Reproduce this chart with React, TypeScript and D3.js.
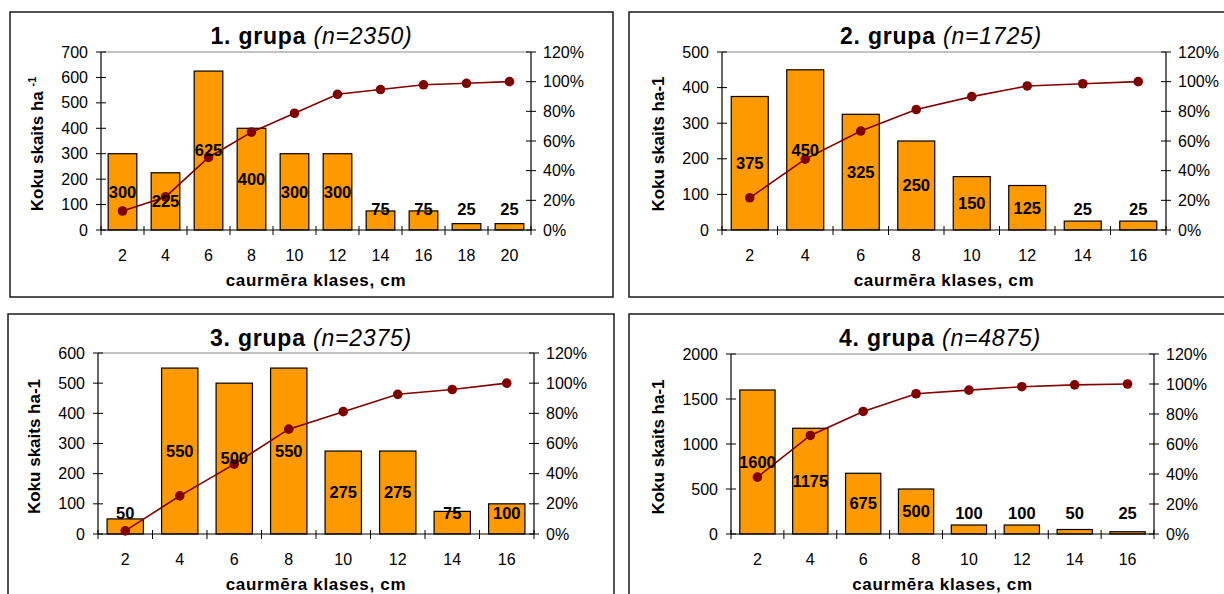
import React from "react";
import * as d3 from "d3";

// ---------- data ----------
const classes1 = ["2", "4", "6", "8", "10", "12", "14", "16", "18", "20"];
const counts1 = [300, 225, 625, 400, 300, 300, 75, 75, 25, 25];
const cumPct1 = [12.8, 22.3, 48.9, 66.0, 78.7, 91.5, 94.7, 97.9, 98.9, 100];

const classes2 = ["2", "4", "6", "8", "10", "12", "14", "16"];
const counts2 = [375, 450, 325, 250, 150, 125, 25, 25];
const cumPct2 = [21.7, 47.8, 66.7, 81.2, 89.9, 97.1, 98.6, 100];

const classes3 = ["2", "4", "6", "8", "10", "12", "14", "16"];
const counts3 = [50, 550, 500, 550, 275, 275, 75, 100];
const cumPct3 = [2.1, 25.3, 46.3, 69.5, 81.1, 92.6, 95.8, 100];

const classes4 = ["2", "4", "6", "8", "10", "12", "14", "16"];
const counts4 = [1600, 1175, 675, 500, 100, 100, 50, 25];
const cumPct4 = [37.9, 65.7, 81.7, 93.5, 95.9, 98.2, 99.4, 100];

const titles = ["1. grupa", "2. grupa", "3. grupa", "4. grupa"];
const sampleSizes = ["(n=2350)", "(n=1725)", "(n=2375)", "(n=4875)"];
const leftMax = [700, 500, 600, 2000];
const leftStep = [100, 100, 100, 500];
const pctTicks = [0, 20, 40, 60, 80, 100, 120];
const xAxisTitle = "caurmēra klases, cm";
const yAxisTitle = "Koku skaits ha";

// ---------- layout ----------
const layouts = [
  { frame: { x: 10, y: 12, w: 603, h: 285 }, plot: { l: 101, r: 531, t: 52, b: 230 }, yTitleOff: 64, sup: true },
  { frame: { x: 629, y: 12, w: 624, h: 285 }, plot: { l: 722, r: 1166, t: 52, b: 230 }, yTitleOff: 64, sup: false },
  { frame: { x: 8, y: 314, w: 606, h: 300 }, plot: { l: 98, r: 534, t: 353, b: 534 }, yTitleOff: 64, sup: false },
  { frame: { x: 629, y: 314, w: 622, h: 300 }, plot: { l: 731, r: 1154, t: 354, b: 534 }, yTitleOff: 73, sup: false },
];

const FONT = "Arial, 'Liberation Sans', sans-serif";
const BAR = "#FF9900";
const LINE = "#800000";

type PanelProps = {
  idx: number;
  classes: string[];
  counts: number[];
  cum: number[];
};

function Panel({ idx, classes, counts, cum }: PanelProps) {
  const { frame, plot, yTitleOff, sup } = layouts[idx];
  const x = d3
    .scaleBand<string>()
    .domain(classes)
    .range([plot.l, plot.r])
    .paddingInner(1 / 3)
    .paddingOuter(1 / 6);
  const step = x.step();
  const y = d3.scaleLinear().domain([0, leftMax[idx]]).range([plot.b, plot.t]);
  const y2 = d3.scaleLinear().domain([0, 120]).range([plot.b, plot.t]);
  const leftTicks = d3.range(0, leftMax[idx] + 1, leftStep[idx]);
  const line = d3
    .line<number>()
    .x((_, i) => (x(classes[i]) as number) + x.bandwidth() / 2)
    .y((d) => y2(d));
  const boundaries = d3.range(0, classes.length + 1).map((i) => plot.l + i * step);
  const cx = frame.x + frame.w / 2;
  const plotMidY = (plot.t + plot.b) / 2 + 3;

  return (
    <g fontFamily={FONT}>
      <rect x={frame.x} y={frame.y} width={frame.w} height={frame.h} fill="#fff" stroke="#1a1a1a" strokeWidth={1.5} />
      {/* title */}
      <text x={cx} y={frame.y + 32} textAnchor="middle" fontSize={23} letterSpacing={0.8} style={{ whiteSpace: "pre" }} fill="#000">
        <tspan fontWeight="bold">{titles[idx] + " "}</tspan>
        <tspan fontStyle="italic">{sampleSizes[idx]}</tspan>
      </text>
      {/* plot top border */}
      <line x1={plot.l} x2={plot.r} y1={plot.t} y2={plot.t} stroke="#888" strokeWidth={1} />
      {/* bars */}
      {counts.map((v, i) => (
        <rect
          key={i}
          x={x(classes[i])}
          y={y(v)}
          width={x.bandwidth()}
          height={plot.b - y(v)}
          fill={BAR}
          stroke="#000"
          strokeWidth={1.2}
        />
      ))}
      {/* axes */}
      <line x1={plot.l} x2={plot.l} y1={plot.t} y2={plot.b} stroke="#000" strokeWidth={1.2} />
      <line x1={plot.r} x2={plot.r} y1={plot.t} y2={plot.b} stroke="#000" strokeWidth={1.2} />
      <line x1={plot.l} x2={plot.r} y1={plot.b} y2={plot.b} stroke="#000" strokeWidth={1.2} />
      {leftTicks.map((t) => (
        <g key={"l" + t}>
          <line x1={plot.l - 5} x2={plot.l + 5} y1={y(t)} y2={y(t)} stroke="#000" strokeWidth={1} />
          <text x={plot.l - 13} y={y(t)} dy="0.35em" textAnchor="end" fontSize={16} fill="#000">
            {t}
          </text>
        </g>
      ))}
      {pctTicks.map((t) => (
        <g key={"r" + t}>
          <line x1={plot.r - 5} x2={plot.r + 5} y1={y2(t)} y2={y2(t)} stroke="#000" strokeWidth={1} />
          <text x={plot.r + 12} y={y2(t)} dy="0.35em" textAnchor="start" fontSize={16} fill="#000">
            {t + "%"}
          </text>
        </g>
      ))}
      {boundaries.map((bx, i) => (
        <line key={"b" + i} x1={bx} x2={bx} y1={plot.b - 4} y2={plot.b + 5} stroke="#000" strokeWidth={1} />
      ))}
      {classes.map((c) => (
        <text key={"x" + c} x={(x(c) as number) + x.bandwidth() / 2} y={plot.b + 25} dy="0.35em" textAnchor="middle" fontSize={16} fill="#000">
          {c}
        </text>
      ))}
      {/* axis titles */}
      <text x={(plot.l + plot.r) / 2} y={plot.b + 50} dy="0.35em" textAnchor="middle" fontSize={17} fontWeight="bold" letterSpacing={0.7} fill="#000">
        {xAxisTitle}
      </text>
      <text
        transform={`translate(${plot.l - yTitleOff},${plotMidY}) rotate(-90)`}
        textAnchor="middle"
        dy="0.35em"
        fontSize={17}
        fontWeight="bold"
        fill="#000"
        style={{ whiteSpace: "pre" }}
      >
        {sup ? (
          <>
            <tspan>{yAxisTitle + " "}</tspan>
            <tspan fontSize={11} dy={-7}>-1</tspan>
          </>
        ) : (
          <tspan>{yAxisTitle + "-1"}</tspan>
        )}
      </text>
      {/* cumulative line */}
      <path d={line(cum) || ""} fill="none" stroke={LINE} strokeWidth={1.6} />
      {cum.map((p, i) => (
        <circle key={"c" + i} cx={(x(classes[i]) as number) + x.bandwidth() / 2} cy={y2(p)} r={4.8} fill={LINE} />
      ))}
      {/* data labels */}
      {counts.map((v, i) => {
        const center = (y(v) + plot.b) / 2;
        const ly = Math.min(center, plot.b - 21);
        return (
          <text key={"d" + i} x={(x(classes[i]) as number) + x.bandwidth() / 2} y={ly} dy="0.35em" textAnchor="middle" fontSize={16.5} fontWeight="bold" fill="#000">
            {v}
          </text>
        );
      })}
    </g>
  );
}

export default function App() {
  return (
    <svg
      width={1224}
      height={594}
      viewBox="0 0 1224 594"
      style={{ position: "absolute", left: 0, top: 0, display: "block", background: "#fff" }}
    >
      <rect x={0} y={0} width={1224} height={594} fill="#fff" />
      <Panel idx={0} classes={classes1} counts={counts1} cum={cumPct1} />
      <Panel idx={1} classes={classes2} counts={counts2} cum={cumPct2} />
      <Panel idx={2} classes={classes3} counts={counts3} cum={cumPct3} />
      <Panel idx={3} classes={classes4} counts={counts4} cum={cumPct4} />
    </svg>
  );
}
